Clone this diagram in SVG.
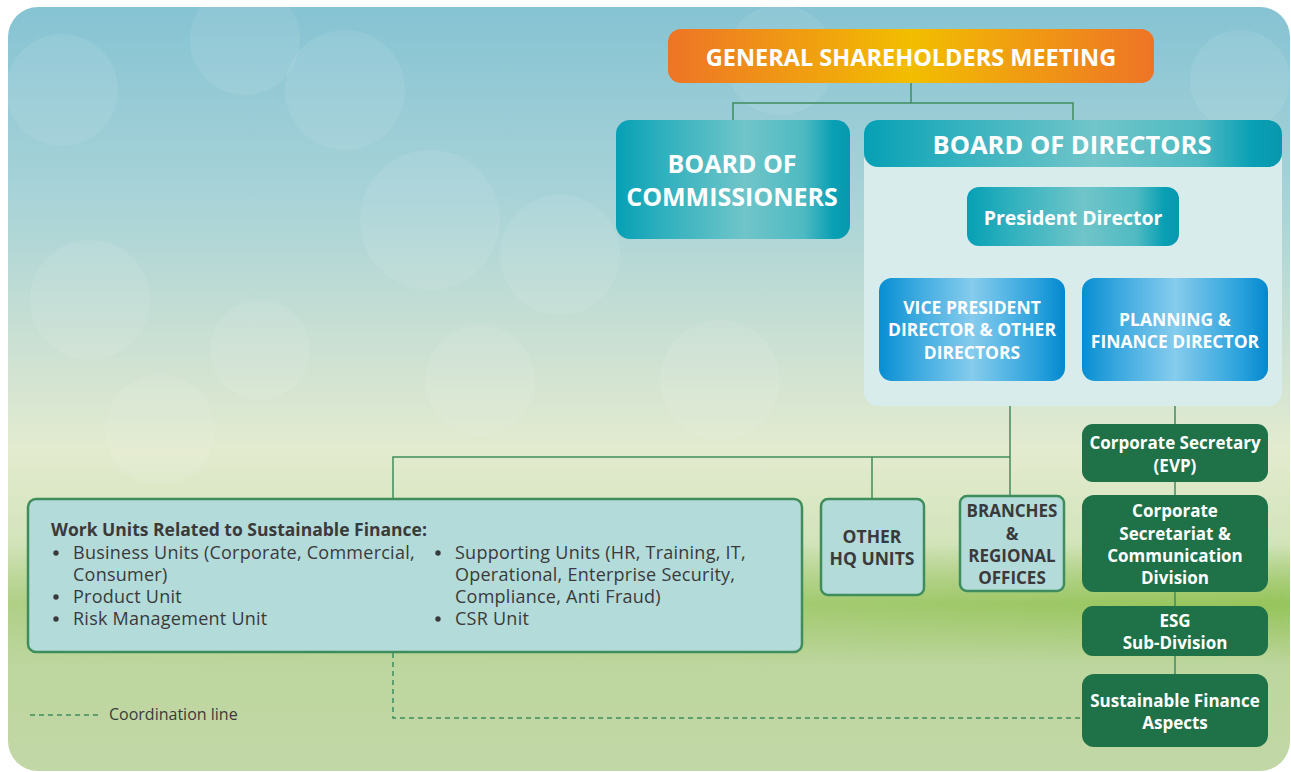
<svg xmlns="http://www.w3.org/2000/svg" width="1291" height="772" viewBox="0 0 1291 772">
<defs>
<linearGradient id="bg" x1="0" y1="0" x2="0" y2="1">
<stop offset="0" stop-color="#86c3d3"/>
<stop offset="0.25" stop-color="#a8d3d8"/>
<stop offset="0.48" stop-color="#d2e3d2"/>
<stop offset="0.58" stop-color="#e3ebcf"/>
<stop offset="0.7" stop-color="#d3e4bb"/>
<stop offset="0.78" stop-color="#b5d28e"/>
<stop offset="0.85" stop-color="#bdd69e"/>
<stop offset="1" stop-color="#c2d7a6"/>
</linearGradient>
<linearGradient id="bandv" x1="0" y1="0" x2="0" y2="1">
<stop offset="0" stop-color="#8cc04a" stop-opacity="0"/>
<stop offset="0.5" stop-color="#8cc04a" stop-opacity="0.75"/>
<stop offset="1" stop-color="#8cc04a" stop-opacity="0"/>
</linearGradient>
<linearGradient id="bandh" x1="0" y1="0" x2="1" y2="0">
<stop offset="0" stop-color="#fff" stop-opacity="0.15"/>
<stop offset="0.55" stop-color="#fff" stop-opacity="0.5"/>
<stop offset="1" stop-color="#fff" stop-opacity="1"/>
</linearGradient>
<mask id="bandmask">
<rect x="0" y="0" width="1291" height="772" fill="url(#bandh)"/>
</mask>
<linearGradient id="orange" x1="0" y1="0" x2="1" y2="0">
<stop offset="0" stop-color="#ee7426"/>
<stop offset="0.5" stop-color="#f2be00"/>
<stop offset="1" stop-color="#ee7426"/>
</linearGradient>
<linearGradient id="teal" x1="0" y1="0" x2="1" y2="0">
<stop offset="0" stop-color="#06a0b5"/>
<stop offset="0.2" stop-color="#2fb0be"/>
<stop offset="0.55" stop-color="#70c5c9"/>
<stop offset="0.8" stop-color="#4fbac2"/>
<stop offset="0.93" stop-color="#089fb4"/>
<stop offset="1" stop-color="#0898ae"/>
</linearGradient>
<linearGradient id="blue" x1="0" y1="0" x2="1" y2="0">
<stop offset="0" stop-color="#078ed2"/>
<stop offset="0.2" stop-color="#3ca9df"/>
<stop offset="0.5" stop-color="#86cced"/>
<stop offset="0.85" stop-color="#2aa2dd"/>
<stop offset="1" stop-color="#0388cf"/>
</linearGradient>
<style>
.t{font-family:"Open Sans","Liberation Sans",sans-serif;}
.w{fill:#ffffff;font-weight:bold;text-anchor:middle;}
.d{fill:#3a3a3a;}
.db{fill:#3a3a3a;font-weight:bold;text-anchor:middle;}
.lite{fill:#b3dbda;stroke:#3f8d5c;stroke-width:2.5;}
.grn{fill:#1f7148;}
.ln{fill:none;stroke:#3f8d5c;stroke-width:1.5;}
.dash{fill:none;stroke:#3f8d5c;stroke-width:1.5;stroke-dasharray:5 4;}
.bok{fill:#ffffff;opacity:0.08;}
.bul{fill:#3a3a3a;}
</style>
</defs>
<rect width="1291" height="772" fill="#ffffff"/>
<g id="background">
<rect x="8" y="7" width="1282" height="764" rx="30" fill="url(#bg)"/>
<rect x="8" y="545" width="1282" height="120" fill="url(#bandv)" mask="url(#bandmask)"/>
<circle class="bok" cx="62" cy="90" r="56"/>
<circle class="bok" cx="345" cy="90" r="60"/>
<circle class="bok" cx="245" cy="40" r="55"/>
<circle class="bok" cx="90" cy="300" r="60"/>
<circle class="bok" cx="430" cy="220" r="70"/>
<circle class="bok" cx="560" cy="255" r="60"/>
<circle class="bok" cx="160" cy="430" r="55"/>
<circle class="bok" cx="480" cy="380" r="55"/>
<circle class="bok" cx="260" cy="350" r="50"/>
<circle class="bok" cx="780" cy="60" r="55"/>
<circle class="bok" cx="1240" cy="80" r="50"/>
<circle class="bok" cx="720" cy="380" r="60"/>
</g>
<g id="connectors">
<polyline class="ln" points="911,83 911,103"/>
<polyline class="ln" points="733,120 733,103 1073,103 1073,120"/>
<polyline class="ln" points="1073,246 1073,262"/>
<polyline class="ln" points="972,278 972,262 1175,262 1175,278"/>
<polyline class="ln" points="1175,381 1175,424"/>
<polyline class="ln" points="1175,482 1175,495"/>
<polyline class="ln" points="1175,592 1175,606"/>
<polyline class="ln" points="1175,656 1175,674"/>
<polyline class="ln" points="1010,406 1010,496"/>
<polyline class="ln" points="393,499 393,457 1010,457"/>
<polyline class="ln" points="872,457 872,499"/>
<polyline class="dash" points="393,653 393,718 1082,718"/>
</g>
<g id="gsm">
<rect x="668" y="29" width="486" height="54" rx="13" fill="url(#orange)"/>
<text class="t w" x="911" y="65.5" font-size="23.5">GENERAL SHAREHOLDERS MEETING</text>
</g>
<g id="boc">
<rect x="616" y="120" width="234" height="119" rx="14" fill="url(#teal)"/>
<text class="t w" x="732" y="173" font-size="25">BOARD OF</text>
<text class="t w" x="732" y="206" font-size="25">COMMISSIONERS</text>
</g>
<g id="bod">
<rect x="864" y="120" width="418" height="286" rx="14" fill="#d8eceb"/>
<rect x="864" y="120" width="418" height="47" rx="14" fill="url(#teal)"/>
<text class="t w" x="1072" y="154" font-size="25.5">BOARD OF DIRECTORS</text>
</g>
<g id="president">
<rect x="967" y="187" width="212" height="59" rx="12" fill="url(#teal)"/>
<text class="t w" x="1073" y="225" font-size="19.5">President Director</text>
</g>
<g id="vp">
<rect x="879" y="278" width="186" height="103" rx="13" fill="url(#blue)"/>
<text class="t w" x="972" y="314" font-size="17.5">VICE PRESIDENT</text>
<text class="t w" x="972" y="336" font-size="17.5">DIRECTOR &amp; OTHER</text>
<text class="t w" x="972" y="359" font-size="17.5">DIRECTORS</text>
</g>
<g id="pfd">
<rect x="1082" y="278" width="186" height="103" rx="13" fill="url(#blue)"/>
<text class="t w" x="1175" y="326" font-size="17.5">PLANNING &amp;</text>
<text class="t w" x="1175" y="348" font-size="17.5">FINANCE DIRECTOR</text>
</g>
<g id="corpsec">
<rect class="grn" x="1082" y="424" width="186" height="58" rx="11"/>
<text class="t w" x="1175" y="449" font-size="17">Corporate Secretary</text>
<text class="t w" x="1175" y="472" font-size="17">(EVP)</text>
</g>
<g id="secretariat">
<rect class="grn" x="1082" y="495" width="186" height="97" rx="12"/>
<text class="t w" x="1175" y="517" font-size="17">Corporate</text>
<text class="t w" x="1175" y="540" font-size="17">Secretariat &amp;</text>
<text class="t w" x="1175" y="562" font-size="17">Communication</text>
<text class="t w" x="1175" y="584" font-size="17">Division</text>
</g>
<g id="esg">
<rect class="grn" x="1082" y="606" width="186" height="50" rx="11"/>
<text class="t w" x="1175" y="627" font-size="17">ESG</text>
<text class="t w" x="1175" y="649" font-size="17">Sub-Division</text>
</g>
<g id="sfa">
<rect class="grn" x="1082" y="674" width="186" height="73" rx="12"/>
<text class="t w" x="1175" y="707" font-size="17">Sustainable Finance</text>
<text class="t w" x="1175" y="729" font-size="17">Aspects</text>
</g>
<g id="workunits">
<rect class="lite" x="28" y="499" width="774" height="153" rx="8"/>
<text class="t d" x="51" y="536" font-size="17.5" font-weight="bold">Work Units Related to Sustainable Finance:</text>
<circle class="bul" cx="56" cy="553" r="2.7"/>
<circle class="bul" cx="56" cy="597" r="2.7"/>
<circle class="bul" cx="56" cy="619" r="2.7"/>
<circle class="bul" cx="438" cy="553" r="2.7"/>
<circle class="bul" cx="438" cy="619" r="2.7"/>
<g class="t d" font-size="18" letter-spacing="0.25">
<text x="73" y="559">Business Units (Corporate, Commercial,</text>
<text x="73" y="581">Consumer)</text>
<text x="73" y="603">Product Unit</text>
<text x="73" y="625">Risk Management Unit</text>
<text x="455" y="559">Supporting Units (HR, Training, IT,</text>
<text x="455" y="581">Operational, Enterprise Security,</text>
<text x="455" y="603">Compliance, Anti Fraud)</text>
<text x="455" y="625">CSR Unit</text>
</g>
</g>
<g id="otherhq">
<rect class="lite" x="821" y="499" width="103" height="96" rx="7"/>
<text class="t db" x="872" y="543" font-size="17.5">OTHER</text>
<text class="t db" x="872" y="565" font-size="17.5">HQ UNITS</text>
</g>
<g id="branches">
<rect class="lite" x="960" y="496" width="104" height="95" rx="7"/>
<text class="t db" x="1012" y="517" font-size="17">BRANCHES</text>
<text class="t db" x="1012" y="540" font-size="17">&amp;</text>
<text class="t db" x="1012" y="562" font-size="17">REGIONAL</text>
<text class="t db" x="1012" y="584" font-size="17">OFFICES</text>
</g>
<g id="legend">
<line class="dash" x1="30" y1="715" x2="98" y2="715"/>
<text class="t d" x="109" y="720" font-size="16">Coordination line</text>
</g>
</svg>
